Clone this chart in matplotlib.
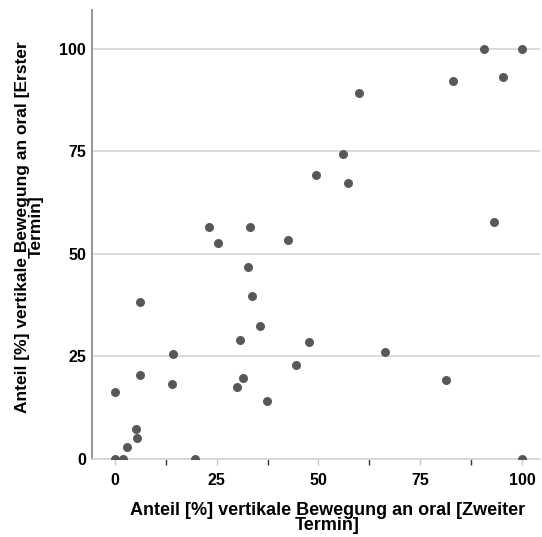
import matplotlib as mpl
mpl.use('Agg')
import matplotlib.pyplot as plt
import numpy as np
from matplotlib.ticker import MultipleLocator

# Werte
zweiter_termin = [90.7, 100, 83.0, 95.2, 59.9, 56.1, 49.4, 57.2, 93.1, 23.2, 25.4, 33.2, 42.5,
                  32.7, 33.8, 6.2, 35.6, 30.7, 47.7, 14.4, 66.4, 44.4, 6.1, 31.4, 81.2, 14.0,
                  29.9, 0.0, 37.3, 5.2, 5.4, 3.1, 0.0, 2.0, 19.6, 100]
erster_termin = [100, 100, 92.2, 93.2, 89.3, 74.4, 69.3, 67.4, 57.7, 56.6, 52.6, 56.6, 53.4,
                 46.8, 39.8, 38.2, 32.4, 29.0, 28.5, 25.5, 26.0, 22.9, 20.6, 19.8, 19.3, 18.3,
                 17.6, 16.3, 14.1, 7.3, 5.2, 2.8, 0.0, 0.0, 0.0, 0.0]

plt.rcParams['font.family'] = ['Liberation Sans', 'DejaVu Sans']

fig = plt.figure(figsize=(5.42, 5.37), dpi=100)
ax = fig.add_axes([0.1697, 0.1453, 0.9963 - 0.1697, 0.9814 - 0.1453])

ax.scatter(zweiter_termin, erster_termin, s=42, color='#555a58', zorder=3, linewidths=0)

ax.set_xlim(-5.6, 104.4)
ax.set_ylim(0, 109.5)
ax.xaxis.set_major_locator(MultipleLocator(25))
ax.xaxis.set_minor_locator(MultipleLocator(12.5))
ax.yaxis.set_major_locator(MultipleLocator(25))

ax.grid(axis='y', color='#d4d4d4', linewidth=1.2, zorder=0)
for s in ['top', 'right']:
    ax.spines[s].set_visible(False)
ax.spines['bottom'].set_color('#d4d4d4')
ax.spines['bottom'].set_linewidth(1.2)
ax.spines['left'].set_color('#9a9a9a')
ax.spines['left'].set_linewidth(1.5)

ax.tick_params(axis='x', which='major', length=4, color='#c8c8c8', width=1, pad=6)
ax.tick_params(axis='x', which='minor', length=4, color='#333333', width=1)
ax.tick_params(axis='y', length=0, pad=4.3)
for lab in ax.get_xticklabels() + ax.get_yticklabels():
    lab.set_fontweight('bold')
    lab.set_fontsize(11.5)

ax.set_xlabel('Anteil [%] vertikale Bewegung an oral [Zweiter\nTermin]',
              fontsize=13, fontweight='bold', linespacing=0.9)
ax.set_ylabel('Anteil [%] vertikale Bewegung an oral [Erster\nTermin]',
              fontsize=12.5, fontweight='bold', linespacing=0.9)
ax.xaxis.set_label_coords(0.526, -0.095, transform=ax.transAxes)
ax.yaxis.set_label_coords(-0.107, 0.517, transform=ax.transAxes)
ax.xaxis.label.set_va('top')
ax.yaxis.label.set_va('bottom')

fig.savefig('out.png', dpi=100)
